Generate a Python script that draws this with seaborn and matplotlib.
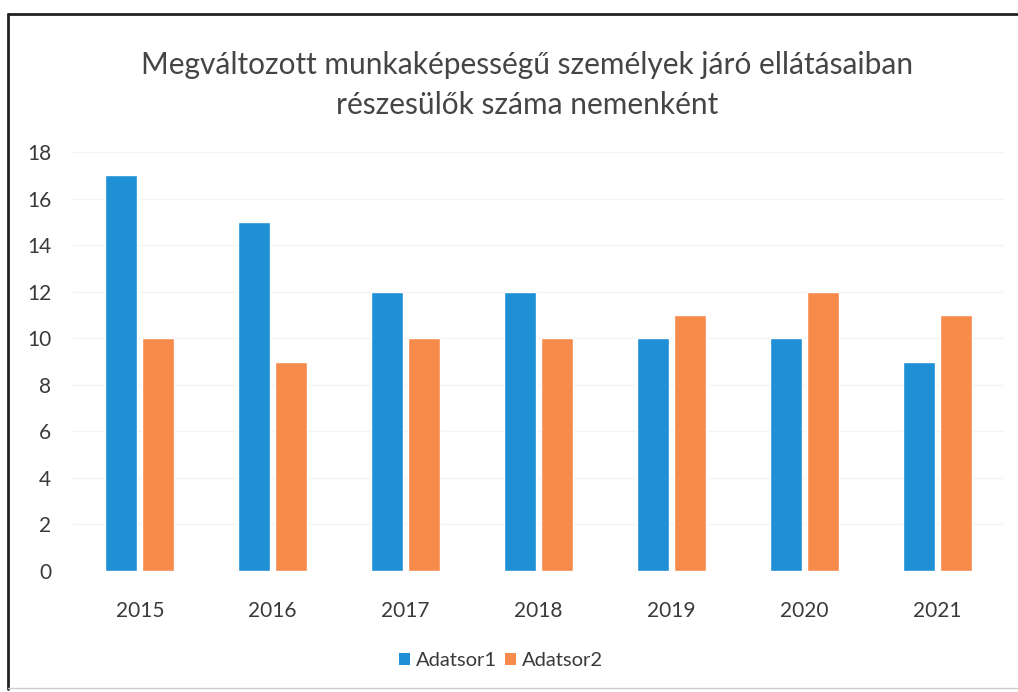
import matplotlib
matplotlib.use("Agg")
import matplotlib.pyplot as plt
from matplotlib.patches import Patch
from matplotlib.lines import Line2D
import seaborn as sns
import pandas as pd

years = ["2015", "2016", "2017", "2018", "2019", "2020", "2021"]
series1 = [17, 15, 12, 12, 10, 10, 9]
series2 = [10, 9, 10, 10, 11, 12, 11]
series_names = ["Adatsor1", "Adatsor2"]
y_ticks = [0, 2, 4, 6, 8, 10, 12, 14, 16, 18]
title = "Megváltozott munkaképességű személyek járó ellátásaiban\nrészesülők száma nemenként"

colors = ["#1f8fd6", "#f78b4b"]

df = pd.DataFrame({
    "Év": years * 2,
    "Érték": series1 + series2,
    "Sorozat": [series_names[0]] * len(years) + [series_names[1]] * len(years),
})

sns.set_theme(style="white")
plt.rcParams["font.family"] = ["Lato", "DejaVu Sans"]

fig = plt.figure(figsize=(10.18, 6.92), dpi=100)
ax = fig.add_axes([0.072, 0.175, 0.914, 0.605])

sns.barplot(data=df, x="Év", y="Érték", hue="Sorozat", palette=colors,
            width=0.56, gap=0.14, ax=ax, legend=False, saturation=1)

ax.set_ylim(0, 18)
ax.set_yticks(y_ticks)
ax.set_xlim(-0.5, len(years) - 0.5)
ax.yaxis.grid(True, color="#f4f4f4", linewidth=1)
ax.set_axisbelow(True)
for s in ax.spines.values():
    s.set_visible(False)
ax.set_xlabel("")
ax.set_ylabel("")
ax.tick_params(axis="both", length=0, labelsize=15, labelcolor="#3a3a3a")
ax.tick_params(axis="y", pad=16)
ax.tick_params(axis="x", pad=22)

fig.text(0.518, 0.877, title, ha="center", va="center", fontsize=21.5,
         color="#454545", linespacing=1.5)

handles = [Patch(facecolor=c, edgecolor="none") for c in colors]
fig.legend(handles, series_names, loc="center", bbox_to_anchor=(0.492, 0.045),
           ncol=2, frameon=False, fontsize=14.5, handlelength=0.55, handleheight=0.55,
           handletextpad=0.3, columnspacing=0.4, labelcolor="#3a3a3a")

# frame around the chart
fig.add_artist(Line2D([0.008, 0.008], [0.005, 0.98], transform=fig.transFigure,
                      color="#222222", linewidth=2))
fig.add_artist(Line2D([0.008, 1.0], [0.98, 0.98], transform=fig.transFigure,
                      color="#222222", linewidth=2))
fig.add_artist(Line2D([0.008, 1.0], [0.006, 0.006], transform=fig.transFigure,
                      color="#cccccc", linewidth=1))

fig.savefig("out.png", dpi=100, facecolor="white")
